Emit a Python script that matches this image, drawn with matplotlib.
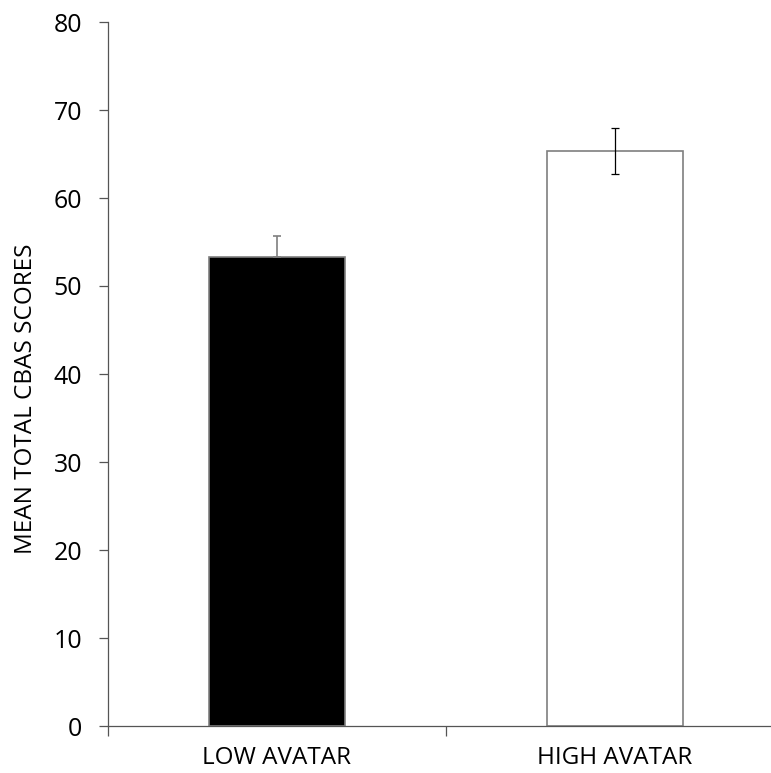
import matplotlib.pyplot as plt

categories = ["LOW AVATAR", "HIGH AVATAR"]
means = [53.3, 65.35]
errors = [2.4, 2.65]
colors = ["black", "white"]

plt.rcParams['font.family'] = ['Open Sans', 'DejaVu Sans']

fig = plt.figure(figsize=(7.71, 7.73), dpi=100)
ax = fig.add_axes([108 / 771, 1 - 726 / 773, 676 / 771, 704 / 773])

x = list(range(len(categories)))
ax.bar(x, means, width=0.405, color=colors, edgecolor="#7f7f7f", linewidth=1.2, zorder=2)
# only upper whisker shows on the black bar
ax.errorbar(x[0], means[0], yerr=[[0], [errors[0]]], fmt="none", ecolor="#7f7f7f",
            elinewidth=1.2, capsize=3, capthick=1.2, zorder=3)
ax.errorbar(x[1], means[1], yerr=errors[1], fmt="none", ecolor="black",
            elinewidth=0.9, capsize=3, capthick=0.9, zorder=3)

ax.set_xlim(-0.5, 1.5)
ax.set_ylim(0, 80)
ax.set_yticks(range(0, 81, 10))
ax.set_xticks([-0.5, 0.5, 1.5])
ax.set_xticklabels([])
ax.set_xticks(x, minor=True)
ax.set_xticklabels(categories, minor=True)
ax.tick_params(axis="x", which="minor", length=0, pad=14.5, labelsize=17.5)
ax.tick_params(axis="x", which="major", length=7, width=0.9, color="#555555")
ax.tick_params(axis="y", length=6.5, width=0.9, color="#555555", labelsize=18, pad=12)
ax.set_ylabel("MEAN TOTAL CBAS SCORES", fontsize=17.5)
ax.yaxis.set_label_coords(-0.104, 0.465)

for side in ["top", "right"]:
    ax.spines[side].set_visible(False)
for side in ["left", "bottom"]:
    ax.spines[side].set_color("#555555")
    ax.spines[side].set_linewidth(0.9)

fig.savefig("out.png", dpi=100)
